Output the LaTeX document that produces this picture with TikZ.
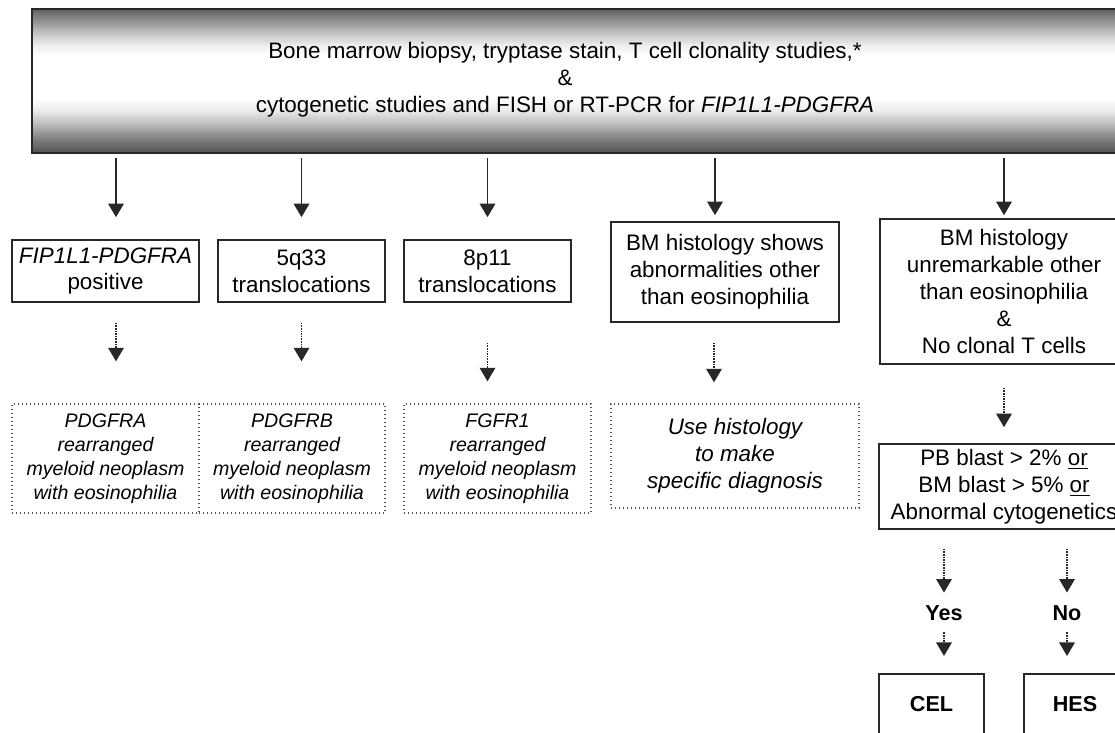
\documentclass[tikz,border=0pt]{standalone}
\usepackage{fontspec}
\setmainfont{Liberation Sans}
\usetikzlibrary{arrows.meta,positioning}
\definecolor{boxLine}{RGB}{40,40,40}
\definecolor{dotLine}{RGB}{85,85,85}
\pgfdeclareverticalshading{bandShade}{100bp}{color(0bp)=(black!68); color(25bp)=(black!68); color(29.5bp)=(black!52); color(34.7bp)=(black!28); color(40bp)=(black!7); color(44bp)=(white); color(59bp)=(white); color(62.5bp)=(black!7); color(67.7bp)=(black!28); color(71.2bp)=(black!45); color(75bp)=(black!62); color(100bp)=(black!62)}
\tikzset{
  mainfont/.style={font=\fontsize{11.2}{13.4}\selectfont},
  solidbox/.style={draw=boxLine, line width=0.8pt, inner sep=2pt, align=center, mainfont},
  dotbox/.style={draw=dotLine, line width=0.65pt, dash pattern=on 0.7pt off 1.3pt, inner sep=2pt, align=center, font=\fontsize{9.8}{11.9}\selectfont\itshape},
  mainarrow/.style={draw=boxLine, line width=0.85pt, -{Triangle[width=7.8pt,length=6.8pt]}},
  dotarrow/.style={mainarrow, dash pattern=on 0.8pt off 0.5pt},
  answer/.style={font=\fontsize{10.8}{13}\selectfont\bfseries, inner sep=0pt, text height=8pt, text depth=0pt},
  endbox/.style={solidbox, font=\fontsize{10.8}{13}\selectfont\bfseries, anchor=north, text height=8pt, text depth=6pt, inner ysep=11pt}
}

\begin{document}
\begin{tikzpicture}[x=0.5pt,y=-0.5pt]
  \useasboundingbox (0,0) rectangle (1115,733);
  \clip (0,0) rectangle (1115,733);

  \node[draw=boxLine, line width=0.8pt, shade, shading=bandShade, minimum width=546.5pt, minimum height=72pt, inner sep=0pt] (top) at (578.5,81) {};
  \node[mainfont, align=center] (toptext) at (565,80) {Bone marrow biopsy, tryptase stain, T cell clonality studies,*\\\&\\cytogenetic studies and FISH or RT-PCR for \textit{FIP1L1-PDGFRA}};

  \node[solidbox, minimum width=93.5pt, minimum height=31pt] (fip) at (105.5,271) {\textit{FIP1L1-PDGFRA}\\positive};
  \node[solidbox, minimum width=83.5pt, minimum height=31pt] (fivq) at (301.5,271) {5q33\\translocations};
  \node[solidbox, minimum width=83.5pt, minimum height=31pt] (eightp) at (487.5,271) {8p11\\translocations};
  \node[solidbox, minimum width=114pt, minimum height=50pt] (bmabn) at (725,272) {BM histology shows\\abnormalities other\\than eosinophilia};
  \node[solidbox, minimum width=124pt, minimum height=72.5pt] (bmun) at (1004,291.5) {BM histology\\unremarkable other\\than eosinophilia\\\&\\No clonal T cells};

  \node[dotbox, minimum width=93.5pt, minimum height=54.5pt] (pdgfra) at (105.5,458.5) {PDGFRA\\rearranged\\myeloid neoplasm\\with eosinophilia};
  \node[dotbox, minimum width=93pt, minimum height=54.5pt] (pdgfrb) at (292,458.5) {PDGFRB\\rearranged\\myeloid neoplasm\\with eosinophilia};
  \node[dotbox, minimum width=93.5pt, minimum height=54.5pt] (fgfr) at (497.5,458.5) {FGFR1\\rearranged\\myeloid neoplasm\\with eosinophilia};
  \node[dotbox, minimum width=124pt, minimum height=52pt, font=\fontsize{11.2}{13.4}\selectfont\itshape] (usehist) at (735,456) {Use histology\\to make\\specific diagnosis};
  \node[solidbox, minimum width=125pt, minimum height=42.5pt] (blast) at (1004,486.5) {PB blast > 2\% \underline{or}\\BM blast > 5\% \underline{or}\\Abnormal cytogenetics};

  \node[answer, anchor=base] (yes) at (944,620) {Yes};
  \node[answer, anchor=base] (no) at (1067,620) {No};
  \node[endbox, minimum width=52.5pt] (cel) at (931.5,673) {CEL};
  \node[endbox, minimum width=51pt] (hes) at (1075,673) {HES};

  \foreach \n/\s/\g in {fip/5.25pt/11pt, fivq/0pt/11pt, eightp/0pt/11pt, bmabn/-5pt/3pt, bmun/0pt/1.5pt}{
    \draw[mainarrow, shorten <=2pt, shorten >=\g] ([xshift=\s]\n.north |- top.south) -- ([xshift=\s]\n.north);
  }

  \draw[dotarrow, shorten <=10pt, shorten >=21pt] ([xshift=5.25pt]fip.south) -- ([xshift=5.25pt]fip.south |- pdgfra.north);
  \draw[dotarrow, shorten <=10pt, shorten >=21pt] (fivq.south) -- (fivq.south |- pdgfrb.north);
  \draw[dotarrow, shorten <=20pt, shorten >=11pt] (eightp.south) -- (eightp.south |- fgfr.north);
  \draw[dotarrow, shorten <=10pt, shorten >=10.5pt] ([xshift=-5.5pt]bmabn.south) -- ([xshift=-5.5pt]bmabn.south |- usehist.north);
  \draw[dotarrow, shorten <=11.5pt, shorten >=8pt] (bmun.south) -- (bmun.south |- blast.north);
  \draw[dotarrow, shorten <=9.5pt, shorten >=5.5pt] (blast.south -| yes.north) -- (yes.north);
  \draw[dotarrow, shorten <=9.5pt, shorten >=5.5pt] (blast.south -| no.north) -- (no.north);
  \draw[dotarrow, shorten <=6pt, shorten >=8.5pt] (yes.south) -- (yes.south |- cel.north);
  \draw[dotarrow, shorten <=6pt, shorten >=8.5pt] (no.south) -- (no.south |- hes.north);
\end{tikzpicture}
\end{document}
